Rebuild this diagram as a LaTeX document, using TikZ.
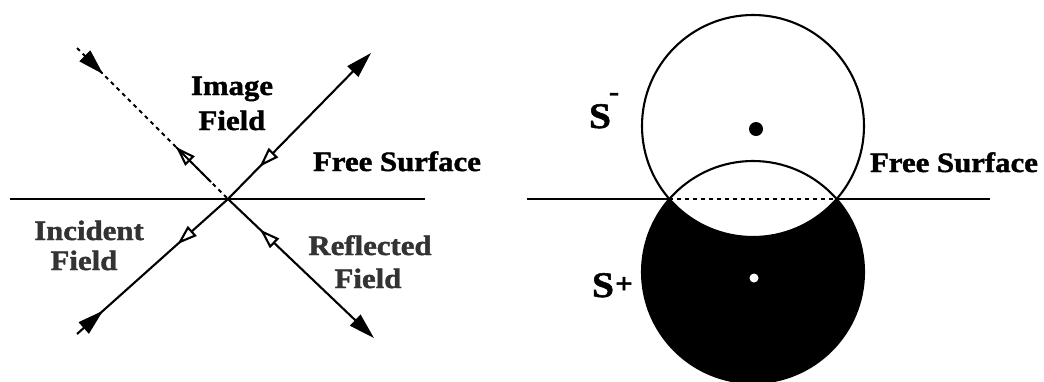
\documentclass[tikz,border=0pt]{standalone}
\usepackage{fontspec}
\setmainfont[FakeStretch=1.1,BoldFeatures={FakeBold=1.5}]{Liberation Serif}
\usetikzlibrary{arrows.meta,decorations.markings}
\tikzset{
  ln/.style={line width=2.1pt},
  fa/.style={-{Triangle[length=26pt,width=15pt]}},
  lab/.style={font=\fontsize{28}{32}\selectfont\bfseries, anchor=base, inner sep=0pt},
  dith/.style={lab, text=black!80},
  slab/.style={font=\fontsize{36}{38}\selectfont\bfseries, anchor=base, inner sep=0pt},
  suplab/.style={font=\fontsize{28}{30}\selectfont\bfseries, inner sep=0pt},
  dsh/.style={dash pattern=on 4pt off 4pt},
}
\begin{document}
\begin{tikzpicture}[x=1pt,y=-1pt]
\useasboundingbox (0,0) rectangle (1044,381);
% ---------------- left diagram ----------------
\coordinate (O) at (228,199);
\coordinate (HL) at (10,199);
\coordinate (HR) at (425,199);
\coordinate (TL) at (77,48);
\coordinate (BL) at (77,334);
\coordinate (TR) at (371,53);
\coordinate (BR) at (374,338);
\coordinate (S1) at (176,147);
\coordinate (S2) at (211,182);
\draw[ln] (HL) -- (HR);
% image field (dashed, with solid middle part)
\draw[ln,dsh,postaction={decorate},decoration={markings,
   mark=at position 37pt with {\arrow{Triangle[length=26pt,width=15pt]}},
   mark=at position 0.655 with {\arrowreversed{Triangle[length=20pt,width=13pt,fill=white]}}}]
   (TL) -- (O);
\draw[ln] (S1) -- (S2);
% incident field
\draw[ln,postaction={decorate},decoration={markings,
   mark=at position 35pt with {\arrow{Triangle[length=26pt,width=15pt]}},
   mark=at position 0.665 with {\arrowreversed{Triangle[length=20pt,width=13pt,fill=white]}}}]
   (BL) -- (O);
% transmitted (upper right)
\draw[ln,fa,postaction={decorate},decoration={markings,
   mark=at position 0.22 with {\arrowreversed{Triangle[length=20pt,width=13pt,fill=white]}}}]
   (O) -- (TR);
% reflected field
\draw[ln,fa,postaction={decorate},decoration={markings,
   mark=at position 0.22 with {\arrowreversed{Triangle[length=20pt,width=13pt,fill=white]}}}]
   (O) -- (BR);
\node[lab] (img1) at (232,95) {Image};
\node[lab] (img2) at (232,130) {Field};
\node[lab] (fs1) at (397,171) {Free Surface};
\node[dith] (inc1) at (89,240) {Incident};
\node[dith] (inc2) at (84,270) {Field};
\node[dith] (ref1) at (370,255) {Reflected};
\node[dith] (ref2) at (368,288) {Field};
% ---------------- right diagram ----------------
\coordinate (C1) at (753,126);
\coordinate (C2) at (753,272);
\coordinate (P1) at (669.4,199);
\coordinate (P2) at (836.6,199);
\coordinate (RL) at (527,199);
\coordinate (RR) at (990,199);
\fill[black] (C2) circle[radius=111];
\fill[white] (C1) circle[radius=111];
\draw[ln] (RL) -- (P1);
\draw[ln] (P2) -- (RR);
\draw[ln,dsh] (P1) -- (P2);
\draw[ln] (C1) circle[radius=111];
\draw[ln] (C2) circle[radius=111];
\fill[black] (C1) ++(3,3) circle[radius=7];
\fill[white] (C2) ++(1,6) circle[radius=4.5];
\node[lab] (fs2) at (954,172) {Free Surface};
\node[slab] (sm) at (600,128) {S};
\node[suplab] (smsup) at (614,97) {-};
\node[slab] (sp) at (603,297) {S};
\node[suplab] (spsup) at (624,285) {+};
\end{tikzpicture}
\end{document}
